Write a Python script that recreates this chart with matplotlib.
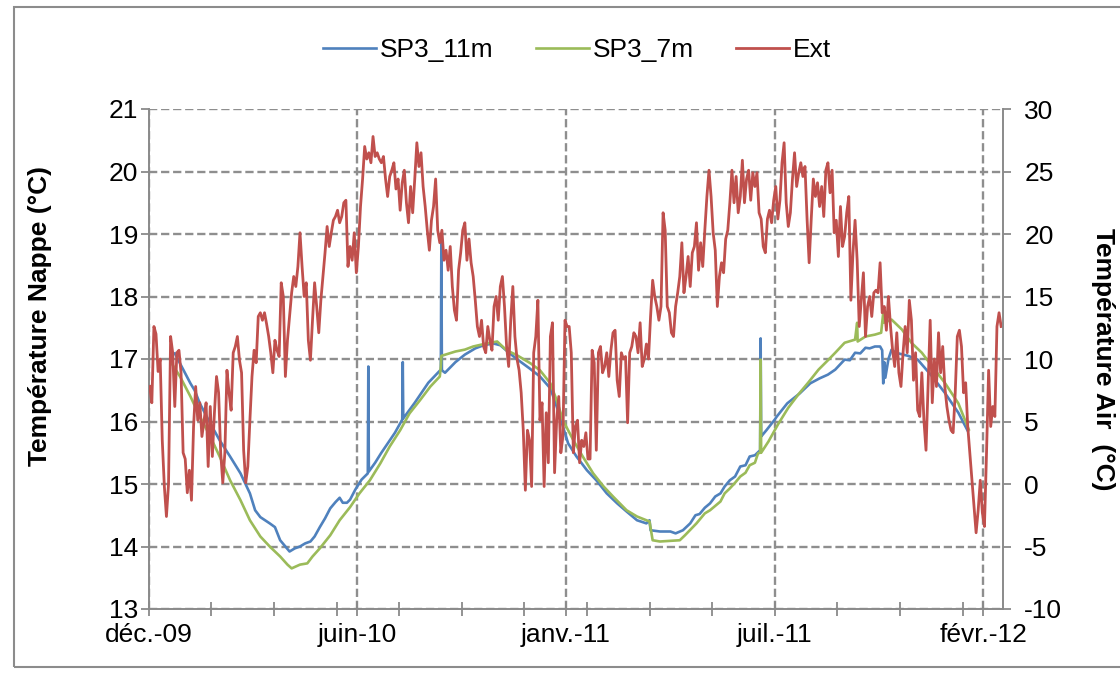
import numpy as np
import pandas as pd
import matplotlib
matplotlib.use("Agg")
import matplotlib.pyplot as plt
import matplotlib.dates as mdates
from matplotlib.patches import Rectangle

# ---------------- data ----------------
start_date = pd.Timestamp("2009-12-01")
x_labels = ["déc.-09", "juin-10", "janv.-11", "juil.-11", "févr.-12"]
label_step_days = 200
minor_step_days = 60
x_span_days = 818.5

# Air temperature (Ext, right axis), one value every 2 days starting day 1
ext_step_days = 2
ext_first_day = 1
ext_dec09_may10 = [7.8, 6.5, 12.6, 12.0, 9.0, 10.0, 3.5, -0.2, -2.6, 0.0, 11.8, 10.5, 6.2, 10.5, 10.7, 8.9,
                   2.5, 2.0, -0.7, 1.1, -1.3, 4.6, 7.8, 5.1, 6.5, 3.8, 5.0, 6.5, 1.4, 6.2, 2.2, 5.7, 8.6,
                   7.3, 2.5, 0.1, 2.5, 9.1, 7.3, 5.9, 10.5, 11.0, 11.8, 9.9, 8.9, 2.7, 0.1, 1.4, 5.1, 8.6,
                   10.7, 9.7, 13.4, 13.7, 13.1, 13.7, 12.8, 11.8, 10.5, 8.9, 11.5, 10.7, 10.2, 16.1, 15.0,
                   8.6, 11.5, 13.4, 15.3, 16.6, 15.8, 17.4, 20.1, 17.4, 15.0, 16.1, 11.5, 9.9, 13.1, 16.1,
                   14.2, 12.1]
ext_may10_oct10 = [14.7, 16.6, 18.5, 20.6, 19.0, 20.1, 21.1, 21.4, 21.9, 20.9, 21.4, 22.5, 22.7, 17.4, 19.0,
                   17.9, 20.1, 16.9, 19.0, 22.2, 24.4, 27.0, 26.0, 26.5, 25.7, 27.8, 26.2, 26.5, 26.0, 25.7,
                   26.2, 24.4, 23.0, 24.6, 25.1, 25.7, 23.6, 24.4, 21.9, 24.1, 25.1, 22.5, 20.9, 23.8, 21.7,
                   24.4, 27.3, 25.4, 26.5, 23.8, 22.2, 20.3, 18.7, 21.1, 22.2, 24.4, 20.3, 19.3, 20.3, 17.9,
                   18.7, 17.1, 19.0, 15.8, 13.9, 13.1, 17.1, 18.5, 20.3, 20.9, 17.9, 19.6, 17.7, 16.6, 14.7,
                   12.6, 11.8, 13.1, 11.0, 10.5, 12.6, 11.5]
ext_oct10_apr11 = [10.7, 14.2, 15.0, 13.1, 15.8, 16.6, 14.2, 11.0, 9.4, 13.1, 15.8, 11.8, 10.0, 9.1, 7.3, 4.3,
                   -0.5, 4.3, 3.5, -0.2, 10.5, 11.8, 14.7, 5.1, 6.5, -0.2, 5.7, 1.7, 11.8, 12.9, 0.9, 5.1,
                   7.0, 2.5, 3.8, 13.1, 12.6, 12.6, 10.5, 2.5, 4.6, 5.1, 1.7, 3.5, 3.0, 4.1, 2.0, 2.0, 10.7,
                   9.7, 2.7, 10.5, 11.0, 8.9, 9.4, 10.5, 8.6, 10.7, 12.1, 12.3, 8.3, 7.0, 10.5, 10.0, 10.2,
                   4.9, 10.5, 11.0, 12.1, 11.8, 10.5, 12.9, 9.4, 10.0, 11.2, 10.0, 13.4, 16.3, 15.0, 14.2,
                   13.1, 14.2]
ext_apr11_sep11 = [21.7, 20.3, 14.2, 13.7, 12.1, 11.8, 14.2, 15.3, 16.6, 19.3, 15.3, 16.6, 18.2, 15.8, 18.5,
                   19.0, 20.9, 17.1, 19.3, 17.4, 20.3, 23.0, 25.1, 23.0, 20.1, 18.7, 14.2, 16.6, 17.7, 16.9,
                   19.6, 20.3, 22.5, 25.1, 22.5, 24.6, 21.7, 23.0, 25.9, 22.5, 24.4, 25.1, 22.7, 24.9, 23.8,
                   24.9, 21.7, 21.2, 19.0, 18.5, 21.2, 21.9, 20.9, 22.7, 23.8, 21.2, 22.7, 25.7, 27.3, 22.5,
                   20.6, 21.7, 24.4, 26.5, 23.8, 24.9, 25.7, 24.6, 25.4, 21.2, 17.7, 21.2, 24.4, 23.0, 24.1,
                   22.2, 23.8, 21.4, 25.1, 25.7, 23.3, 25.1]
ext_sep11_feb12 = [20.1, 21.1, 18.2, 22.2, 19.0, 19.8, 21.7, 23.0, 14.7, 18.5, 21.1, 17.9, 12.6, 14.7, 16.9,
                   11.8, 14.2, 15.0, 13.4, 15.3, 15.5, 15.3, 17.7, 13.7, 14.2, 12.3, 15.0, 12.6, 10.7, 9.4,
                   12.1, 8.9, 7.8, 10.5, 12.6, 10.5, 14.7, 13.1, 8.3, 10.5, 5.9, 5.4, 8.9, 5.1, 2.7, 7.8,
                   13.1, 6.5, 10.0, 7.8, 12.1, 8.9, 11.0, 7.8, 6.2, 5.1, 4.3, 4.1, 7.3, 11.8, 12.3, 11.0,
                   7.3, 8.1, 4.6, 2.5, 0.3, -1.8, -3.9, -2.1, 0.3, -2.3, -3.4, 2.5, 9.1, 4.6, 6.2, 5.4,
                   12.6, 13.7, 12.6]

# Groundwater temperature SP3_11m (left axis): days since start, value
sp11_day = [25, 30, 40, 44, 49, 59, 68, 78, 88, 97, 102, 107, 116, 121, 126, 131, 135, 140, 145, 150, 155,
            159, 164, 169, 174, 179, 183, 186, 190, 193, 198, 204, 210, 210.5, 211, 217, 223, 236, 243,
            243.5, 244, 255, 268, 280, 280.5, 281, 284, 294, 303, 313, 321, 330, 337, 346, 356, 365, 375,
            385, 391, 397, 402, 410, 420, 429, 439, 449, 458, 468, 477, 480, 481, 490, 500, 505, 512, 519,
            524, 528, 533, 538, 543, 548, 552, 557, 562, 567, 572, 576, 581, 586, 586.5, 587, 589, 592,
            600, 602, 612, 624, 634, 643, 651, 658, 667, 672, 677, 682, 687, 691, 696, 701, 703, 704, 705,
            706, 709, 712, 716, 728, 737, 751, 763, 776, 785]
sp11_temp = [17.09, 16.93, 16.61, 16.50, 16.29, 15.97, 15.70, 15.44, 15.17, 14.85, 14.58, 14.47, 14.37,
             14.31, 14.10, 14.00, 13.92, 13.97, 14.00, 14.05, 14.08, 14.16, 14.31, 14.45, 14.61, 14.71,
             14.78, 14.70, 14.70, 14.75, 14.91, 15.07, 15.17, 16.88, 15.20, 15.34, 15.50, 15.82, 16.03,
             16.95, 16.05, 16.30, 16.62, 16.83, 18.88, 16.82, 16.78, 16.95, 17.07, 17.17, 17.22, 17.25,
             17.22, 17.09, 16.96, 16.85, 16.72, 16.53, 16.24, 15.92, 15.65, 15.44, 15.22, 15.06, 14.85,
             14.69, 14.56, 14.42, 14.37, 14.42, 14.26, 14.24, 14.24, 14.21, 14.26, 14.37, 14.50, 14.52,
             14.62, 14.69, 14.80, 14.85, 14.96, 15.06, 15.12, 15.28, 15.30, 15.44, 15.46, 15.54, 17.33,
             15.76, 15.80, 15.86, 16.03, 16.08, 16.29, 16.45, 16.61, 16.69, 16.75, 16.83, 16.99, 16.98,
             17.10, 17.09, 17.18, 17.17, 17.20, 17.20, 17.14, 16.61, 16.95, 16.70, 17.00, 17.15, 17.10,
             17.05, 16.99, 16.72, 16.46, 16.14, 15.85]

# Groundwater temperature SP3_7m (left axis)
sp7_day = [22, 30, 40, 49, 59, 68, 78, 88, 97, 107, 116, 126, 133, 137, 145, 152, 157, 164, 174, 183, 193,
           202, 212, 222, 231, 241, 250, 260, 270, 279, 280, 280.5, 294, 303, 311, 324, 334, 343, 353, 366,
           375, 385, 391, 397, 407, 416, 426, 436, 445, 458, 468, 480, 483, 490, 509, 514, 525, 533, 538,
           548, 552, 557, 562, 567, 572, 576, 581, 584, 586, 586.5, 587, 594, 603, 613, 623, 632, 642, 651,
           658, 667, 677, 679, 679.5, 687, 696, 702, 704, 704.5, 712, 722, 731, 741, 751, 763, 776, 786]
sp7_temp = [16.93, 16.72, 16.40, 16.08, 15.76, 15.44, 15.06, 14.74, 14.42, 14.16, 14.00, 13.84, 13.71,
            13.65, 13.71, 13.73, 13.84, 13.97, 14.18, 14.42, 14.63, 14.85, 15.06, 15.33, 15.60, 15.86,
            16.13, 16.34, 16.56, 16.72, 16.88, 17.05, 17.12, 17.15, 17.20, 17.25, 17.28, 17.14, 17.06,
            16.93, 16.82, 16.61, 16.34, 16.02, 15.70, 15.44, 15.17, 14.96, 14.80, 14.58, 14.48, 14.40,
            14.10, 14.08, 14.10, 14.18, 14.37, 14.53, 14.58, 14.72, 14.85, 14.93, 15.02, 15.12, 15.18,
            15.30, 15.34, 15.49, 15.50, 16.99, 15.50, 15.68, 15.95, 16.22, 16.44, 16.62, 16.83, 16.98,
            17.10, 17.26, 17.31, 17.58, 17.28, 17.36, 17.39, 17.42, 17.74, 17.58, 17.63, 17.47, 17.26,
            17.10, 16.88, 16.62, 16.29, 15.87]

series_names = ["SP3_11m", "SP3_7m", "Ext"]
series_colors = ["#4F81BD", "#9BBB59", "#C0504D"]

# ---------------- figure ----------------
plt.rcParams["font.family"] = ["Liberation Sans", "DejaVu Sans"]
plt.rcParams["axes.unicode_minus"] = False
FS = 19

W, H = 1120, 673
fig = plt.figure(figsize=(W / 100, H / 100), dpi=100)
L, R, T, B = 148.7, 1002.7, 109, 609
ax = fig.add_axes([L / W, 1 - B / H, (R - L) / W, (B - T) / H])
ax2 = ax.twinx()


def to_num(days):
    d = pd.to_timedelta(np.asarray(days, dtype=float), unit="D")
    return mdates.date2num((start_date + d).to_numpy())


ext_air = ext_dec09_may10 + ext_may10_oct10 + ext_oct10_apr11 + ext_apr11_sep11 + ext_sep11_feb12
ext_days = ext_first_day + ext_step_days * np.arange(len(ext_air))

l1, = ax.plot(to_num(sp11_day), sp11_temp, color=series_colors[0], lw=1.9, label=series_names[0],
              solid_joinstyle="round")
l2, = ax.plot(to_num(sp7_day), sp7_temp, color=series_colors[1], lw=1.9, label=series_names[1],
              solid_joinstyle="round")
l3, = ax2.plot(to_num(ext_days), ext_air, color=series_colors[2], lw=2.0, label=series_names[2],
               solid_joinstyle="round")

ax.set_xlim(to_num([0, x_span_days]))
ax.set_ylim(13, 21)
ax.set_yticks(np.arange(13, 22, 1))
ax2.set_ylim(-10, 30)
ax2.set_yticks(np.arange(-10, 31, 5))

major_days = [label_step_days * i for i in range(len(x_labels))]
ax.set_xticks(to_num(major_days))
ax.set_xticklabels(x_labels)
ax.set_xticks(to_num(np.arange(0, x_span_days - 20, minor_step_days)), minor=True)

grid_col = "#8e8e8e"
ax.set_axisbelow(True)
ax.grid(True, which="major", axis="both", color=grid_col, lw=1.7, linestyle=(0, (3.5, 1.6)))

spine_col = "#8a8a8a"
ax.spines["top"].set_visible(False)
ax.spines["right"].set_visible(False)
for s in ("left", "bottom"):
    ax.spines[s].set_color(spine_col)
    ax.spines[s].set_linewidth(1.4)
for s in ("top", "left", "bottom"):
    ax2.spines[s].set_visible(False)
ax2.spines["right"].set_color(spine_col)
ax2.spines["right"].set_linewidth(1.4)

ax.tick_params(axis="y", direction="out", length=5.5, width=1.3, color=spine_col,
               labelsize=FS, pad=2)
ax.tick_params(axis="x", which="both", direction="inout", length=9.6, width=1.3, color=spine_col,
               labelsize=FS, pad=5)
ax2.tick_params(axis="y", direction="out", length=5.5, width=1.3, color=spine_col,
                labelsize=FS, pad=10)

ax.set_ylabel("Température Nappe (°C)", fontsize=FS, fontweight="bold")
ax.yaxis.set_label_coords((52 - L) / (R - L), 0.585)
ax2.set_ylabel("Température Air  (°C)", fontsize=FS, fontweight="bold", rotation=-90, va="bottom")
ax2.yaxis.set_label_coords((1091 - L) / (R - L), 0.5)

fig.legend([l1, l2, l3], series_names, loc="center", bbox_to_anchor=(577 / W, 1 - 50 / H), ncol=3,
           frameon=False, fontsize=FS, handlelength=2.0, handletextpad=0.15, columnspacing=1.6,
           borderaxespad=0)

fig.patches.append(Rectangle((14 / W, 1 - 667 / H), 1.2, (667 - 7) / H, transform=fig.transFigure,
                             fill=False, ec="#8c8c8c", lw=1.5))

fig.savefig("out.png", dpi=100)
